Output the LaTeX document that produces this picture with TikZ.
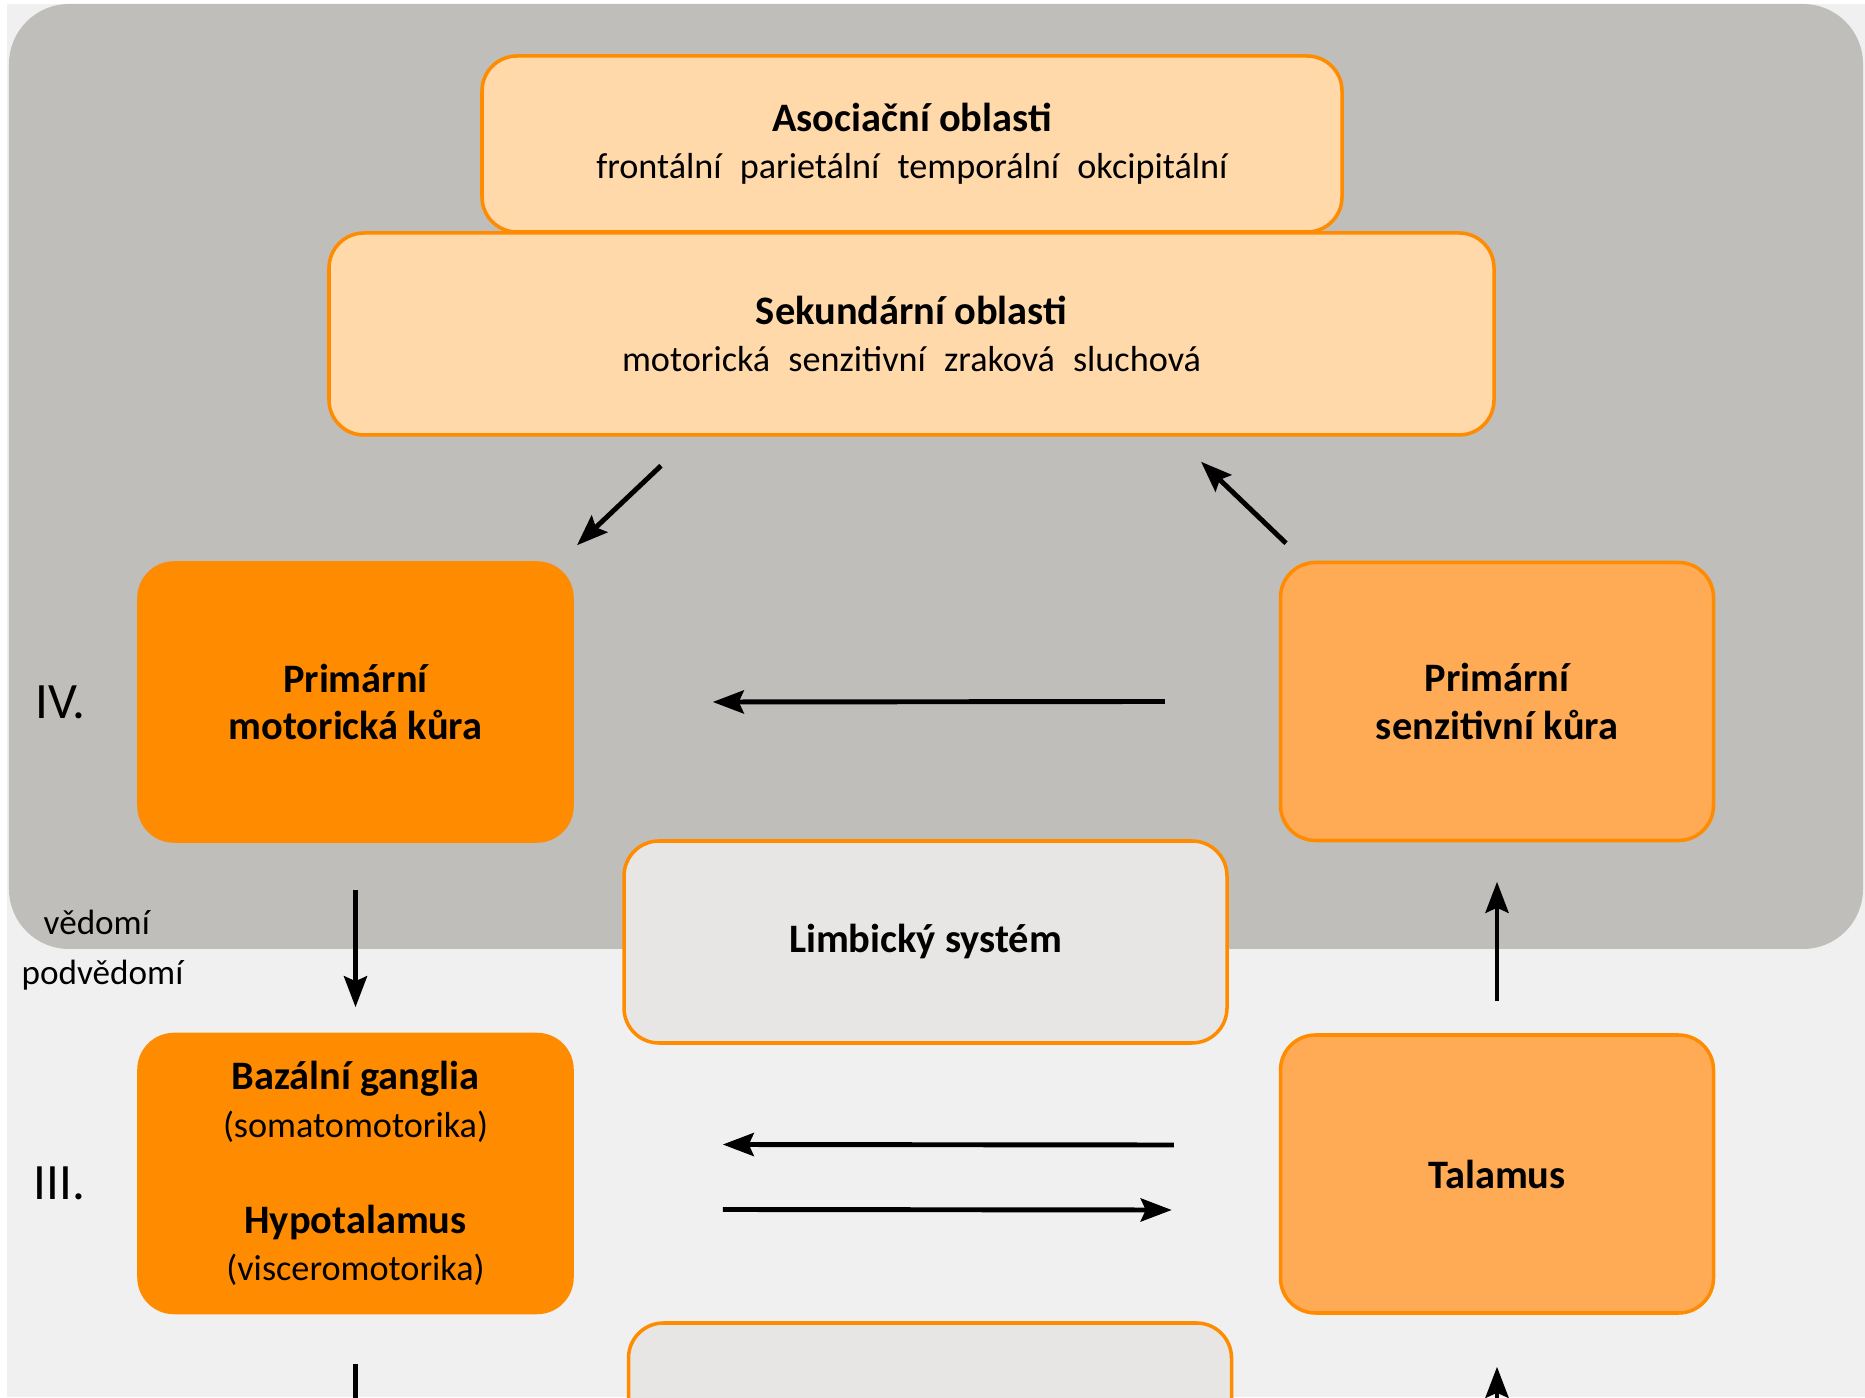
\documentclass[tikz,border=0pt]{standalone}
\usepackage{fontspec}
\setmainfont{Carlito}
\usetikzlibrary{arrows.meta}

\definecolor{panelgray}{RGB}{191,190,186}
\definecolor{bggray}{RGB}{240,240,240}
\definecolor{paleorange}{RGB}{255,217,170}
\definecolor{lightorange}{RGB}{255,171,86}
\definecolor{darkorange}{RGB}{255,139,0}
\definecolor{limbgray}{RGB}{231,230,228}

\newcommand{\hd}[1]{{\fontsize{11.5}{13.4}\selectfont\bfseries #1}}

\begin{document}
\begin{tikzpicture}[
  % Node Styles
  base/.style={rectangle, rounded corners=0.35cm, align=center, inner sep=0pt, text=black, font=\fontsize{10.3}{13.4}\selectfont},
  cnode/.style={base, draw=darkorange, line width=1pt, fill=paleorange},
  mnode/.style={base, draw=darkorange, line width=1pt, fill=darkorange, minimum width=4.33cm, minimum height=2.78cm},
  snode/.style={base, draw=darkorange, line width=1pt, fill=lightorange, minimum width=4.33cm, minimum height=2.78cm},
  lnode/.style={base, draw=darkorange, line width=1pt, fill=limbgray, minimum width=6.03cm, minimum height=2.02cm},
  % Side Labels
  levelnode/.style={anchor=west, inner sep=0pt, font=\fontsize{14.5}{16}\selectfont},
  statenode/.style={anchor=west, inner sep=0pt, font=\fontsize{10}{12}\selectfont},
  % Arrow Styles
  solidarrow/.style={-{Stealth[length=3.1mm, width=2.3mm, inset=0.5mm]}, line width=1.4pt, black}
]

\clip (0,0) rectangle (18.65,13.97);

% Background
\fill[white] (0,0) rectangle (18.65,13.97);
\fill[bggray] (0.07,0) rectangle (18.65,13.93);
\fill[panelgray, rounded corners=0.6cm] (0.09,4.48) rectangle (18.63,13.93);

% Cortex
\node[cnode, minimum width=8.6cm, minimum height=1.76cm] (asoc) at (9.12,12.53) {\hd{Asociační oblasti}\\frontální\enspace parietální\enspace temporální\enspace okcipitální};
\node[cnode, minimum width=11.65cm, minimum height=2.02cm] (sek) at (9.115,10.63) {\hd{Sekundární oblasti}\\motorická\enspace senzitivní\enspace zraková\enspace sluchová};
\node[mnode] (mot) at (3.555,6.95) {\hd{Primární}\\\hd{motorická kůra}};
\node[snode] (senz) at (14.97,6.955) {\hd{Primární}\\\hd{senzitivní kůra}};

% Subcortex
\node[lnode] (limb) at (9.255,4.55) {\hd{Limbický systém}};
\node[mnode] (baz) at (3.555,2.235) {\hd{Bazální ganglia}\\(somatomotorika)\\[14pt]\hd{Hypotalamus}\\(visceromotorika)};
\node[snode] (tal) at (14.97,2.23) {\hd{Talamus}};
\node[lnode] (dolni) at (9.3,-0.27) {};

% Levels
\node[levelnode] (iv) at (0.35,6.95) {IV.};
\node[levelnode] (iii) at (0.33,2.14) {III.};
\node[statenode] (ved) at (0.43,4.75) {vědomí};
\node[statenode] (podved) at (0.21,4.22) {podvědomí};

% Arrows
\draw[solidarrow] ([xshift=-2.505cm, yshift=-0.29cm]sek.south) -- ([xshift=2.215cm, yshift=0.16cm]mot.north);
\draw[solidarrow] ([xshift=-2.11cm, yshift=0.175cm]senz.north) -- ([xshift=2.895cm, yshift=-0.25cm]sek.south);
\draw[solidarrow] ([xshift=-1.14cm]senz.west) -- ([xshift=1.39cm]mot.east);
\draw[solidarrow] ([yshift=-0.47cm]mot.south) -- ([yshift=0.255cm]baz.north);
\draw[solidarrow] ([yshift=0.32cm]tal.north) -- ([yshift=-0.395cm]senz.south);
\draw[solidarrow] ([xshift=-1.05cm, yshift=0.29cm]tal.west) -- ([xshift=1.49cm, yshift=0.29cm]baz.east);
\draw[solidarrow] ([xshift=1.49cm, yshift=-0.36cm]baz.east) -- ([xshift=-1.07cm, yshift=-0.36cm]tal.west);
\draw[solidarrow] ([yshift=-0.495cm]baz.south) -- ++(0,-1.5);
\draw[solidarrow] ([yshift=-1.5cm]tal.south) -- ([yshift=-0.52cm]tal.south);

\end{tikzpicture}
\end{document}
